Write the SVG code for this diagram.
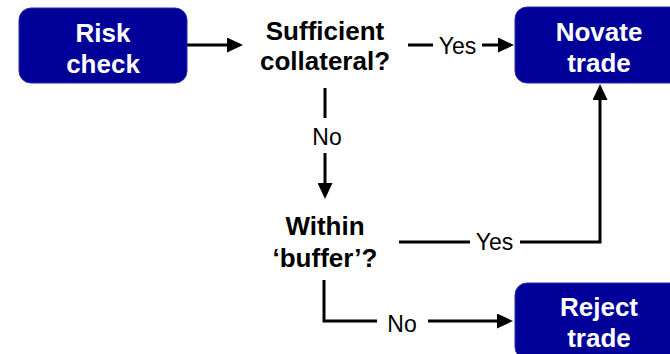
<svg xmlns="http://www.w3.org/2000/svg" width="670" height="354" viewBox="0 0 670 354">
<defs>
<style>
.box{fill:#000099;stroke:#2a2aa8;stroke-width:1}
.bt{font-family:"Liberation Sans",Arial,sans-serif;font-weight:bold;font-size:26px;fill:#ffffff;text-anchor:middle}
.dt{font-family:"Liberation Sans",Arial,sans-serif;font-weight:bold;font-size:26px;fill:#000000;text-anchor:middle}
.lbl{font-family:"Liberation Sans",Arial,sans-serif;font-size:23px;fill:#000000;text-anchor:middle}
.ln{fill:none;stroke:#000000;stroke-width:3}
.arr{fill:none;stroke:#000000;stroke-width:3;marker-end:url(#ah)}
</style>
<marker id="ah" markerUnits="userSpaceOnUse" markerWidth="16" markerHeight="15" refX="4" refY="7.5" orient="auto">
<path d="M0,0 L16,7.5 L0,15 z" fill="#000000"/>
</marker>
</defs>
<rect width="670" height="354" fill="#ffffff"/>
<g id="connectors">
<path class="arr" d="M187,45 H231"/>
<path class="ln" d="M408,45 H433"/>
<text class="lbl" x="457.5" y="54">Yes</text>
<path class="arr" d="M482,45 H502"/>
<path class="ln" d="M325,88 V118"/>
<text class="lbl" x="327" y="145">No</text>
<path class="arr" d="M325,153 V187"/>
<path class="ln" d="M399,242 H470"/>
<text class="lbl" x="494.5" y="250">Yes</text>
<path class="arr" d="M520,242 H600 V96"/>
<path class="ln" d="M324,280 V321 H377"/>
<text class="lbl" x="402" y="332">No</text>
<path class="arr" d="M428,321 H501"/>
</g>
<g id="risk-check">
<rect class="box" x="19" y="8" width="168" height="75" rx="12"/>
<text class="bt" x="103" y="42">Risk</text>
<text class="bt" x="103" y="73">check</text>
</g>
<g id="sufficient-collateral">
<text class="dt" x="325" y="40">Sufficient</text>
<text class="dt" x="325" y="70">collateral?</text>
</g>
<g id="novate-trade">
<rect class="box" x="515" y="7" width="168" height="76" rx="12"/>
<text class="bt" x="599" y="41">Novate</text>
<text class="bt" x="599" y="72">trade</text>
</g>
<g id="within-buffer">
<text class="dt" x="325" y="235">Within</text>
<text class="dt" x="325" y="267">‘buffer’?</text>
</g>
<g id="reject-trade">
<rect class="box" x="515" y="283" width="168" height="76" rx="12"/>
<text class="bt" x="599" y="316">Reject</text>
<text class="bt" x="599" y="347">trade</text>
</g>
</svg>
